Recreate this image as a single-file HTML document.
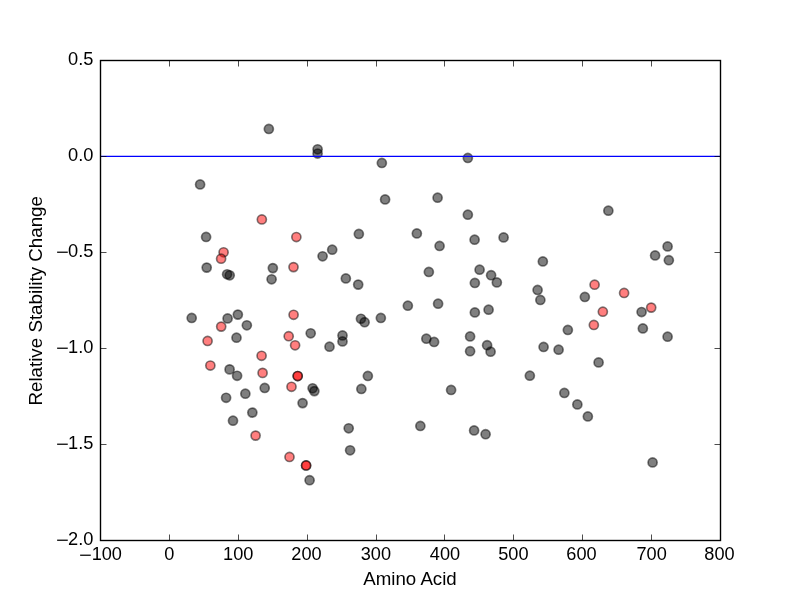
<!DOCTYPE html>
<html lang="en"><head><meta charset="utf-8"><title>plot</title>
<style>
html,body{margin:0;padding:0;background:#fff;}
body{width:800px;height:600px;overflow:hidden;}
svg{display:block;will-change:transform;}
text{font-family:"Liberation Sans",sans-serif;fill:#000;}
</style></head><body>
<svg width="800" height="600" viewBox="0 0 800 600">
<rect x="0" y="0" width="800" height="600" fill="#ffffff"/>

<g fill="#000" fill-opacity="0.5" stroke="#000" stroke-opacity="0.5" stroke-width="1.65">
<circle cx="268.85" cy="128.95" r="4.55"/>
<circle cx="317.60" cy="149.30" r="4.55"/>
<circle cx="317.60" cy="153.50" r="4.55"/>
<circle cx="200.10" cy="184.45" r="4.55"/>
<circle cx="206.10" cy="236.95" r="4.55"/>
<circle cx="358.85" cy="233.95" r="4.55"/>
<circle cx="332.20" cy="249.70" r="4.55"/>
<circle cx="381.85" cy="162.95" r="4.55"/>
<circle cx="467.85" cy="157.95" r="4.55"/>
<circle cx="385.10" cy="199.45" r="4.55"/>
<circle cx="437.60" cy="197.70" r="4.55"/>
<circle cx="467.85" cy="214.70" r="4.55"/>
<circle cx="416.85" cy="233.45" r="4.55"/>
<circle cx="439.60" cy="245.95" r="4.55"/>
<circle cx="474.60" cy="239.70" r="4.55"/>
<circle cx="503.60" cy="237.45" r="4.55"/>
<circle cx="608.35" cy="210.70" r="4.55"/>
<circle cx="667.60" cy="246.45" r="4.55"/>
<circle cx="206.70" cy="267.60" r="4.55"/>
<circle cx="227.10" cy="274.30" r="4.55"/>
<circle cx="229.70" cy="275.30" r="4.55"/>
<circle cx="272.85" cy="268.10" r="4.55"/>
<circle cx="271.60" cy="279.30" r="4.55"/>
<circle cx="322.60" cy="256.30" r="4.55"/>
<circle cx="345.85" cy="278.45" r="4.55"/>
<circle cx="358.20" cy="284.60" r="4.55"/>
<circle cx="191.70" cy="317.95" r="4.55"/>
<circle cx="227.60" cy="318.45" r="4.55"/>
<circle cx="237.85" cy="314.60" r="4.55"/>
<circle cx="246.85" cy="325.30" r="4.55"/>
<circle cx="236.50" cy="337.70" r="4.55"/>
<circle cx="229.60" cy="369.40" r="4.55"/>
<circle cx="237.10" cy="375.80" r="4.55"/>
<circle cx="310.70" cy="333.30" r="4.55"/>
<circle cx="329.50" cy="346.70" r="4.55"/>
<circle cx="342.50" cy="335.45" r="4.55"/>
<circle cx="342.50" cy="341.45" r="4.55"/>
<circle cx="360.95" cy="318.80" r="4.55"/>
<circle cx="364.60" cy="322.20" r="4.55"/>
<circle cx="245.35" cy="393.70" r="4.55"/>
<circle cx="226.10" cy="397.80" r="4.55"/>
<circle cx="252.35" cy="412.60" r="4.55"/>
<circle cx="233.00" cy="420.70" r="4.55"/>
<circle cx="264.70" cy="387.95" r="4.55"/>
<circle cx="312.60" cy="388.30" r="4.55"/>
<circle cx="314.35" cy="391.10" r="4.55"/>
<circle cx="302.60" cy="403.10" r="4.55"/>
<circle cx="361.35" cy="388.95" r="4.55"/>
<circle cx="348.70" cy="428.30" r="4.55"/>
<circle cx="309.60" cy="480.20" r="4.55"/>
<circle cx="350.10" cy="450.30" r="4.55"/>
<circle cx="428.85" cy="271.95" r="4.55"/>
<circle cx="479.60" cy="269.70" r="4.55"/>
<circle cx="491.10" cy="275.20" r="4.55"/>
<circle cx="474.85" cy="282.95" r="4.55"/>
<circle cx="496.85" cy="282.45" r="4.55"/>
<circle cx="542.85" cy="261.45" r="4.55"/>
<circle cx="537.60" cy="289.95" r="4.55"/>
<circle cx="540.35" cy="299.95" r="4.55"/>
<circle cx="407.85" cy="305.70" r="4.55"/>
<circle cx="438.10" cy="303.70" r="4.55"/>
<circle cx="474.85" cy="312.45" r="4.55"/>
<circle cx="488.60" cy="309.70" r="4.55"/>
<circle cx="380.85" cy="317.95" r="4.55"/>
<circle cx="426.35" cy="338.70" r="4.55"/>
<circle cx="434.10" cy="341.95" r="4.55"/>
<circle cx="470.10" cy="336.45" r="4.55"/>
<circle cx="470.10" cy="351.20" r="4.55"/>
<circle cx="487.10" cy="345.20" r="4.55"/>
<circle cx="490.60" cy="351.70" r="4.55"/>
<circle cx="543.60" cy="346.95" r="4.55"/>
<circle cx="558.60" cy="349.70" r="4.55"/>
<circle cx="367.85" cy="375.95" r="4.55"/>
<circle cx="529.85" cy="375.70" r="4.55"/>
<circle cx="451.10" cy="389.95" r="4.55"/>
<circle cx="564.35" cy="392.95" r="4.55"/>
<circle cx="420.35" cy="425.95" r="4.55"/>
<circle cx="474.10" cy="430.45" r="4.55"/>
<circle cx="485.60" cy="434.20" r="4.55"/>
<circle cx="655.10" cy="255.45" r="4.55"/>
<circle cx="668.85" cy="260.20" r="4.55"/>
<circle cx="584.85" cy="296.95" r="4.55"/>
<circle cx="641.60" cy="312.00" r="4.55"/>
<circle cx="567.85" cy="329.95" r="4.55"/>
<circle cx="642.85" cy="328.45" r="4.55"/>
<circle cx="667.60" cy="336.70" r="4.55"/>
<circle cx="598.60" cy="362.45" r="4.55"/>
<circle cx="577.35" cy="404.45" r="4.55"/>
<circle cx="587.85" cy="416.45" r="4.55"/>
<circle cx="652.60" cy="462.45" r="4.55"/>
</g>
<g fill="#f00" fill-opacity="0.5" stroke="#000" stroke-opacity="0.5" stroke-width="1.65">
<circle cx="261.85" cy="219.45" r="4.55"/>
<circle cx="296.35" cy="237.00" r="4.55"/>
<circle cx="223.60" cy="252.30" r="4.55"/>
<circle cx="221.10" cy="258.70" r="4.55"/>
<circle cx="293.50" cy="267.10" r="4.55"/>
<circle cx="221.20" cy="326.60" r="4.55"/>
<circle cx="207.60" cy="340.95" r="4.55"/>
<circle cx="210.35" cy="365.50" r="4.55"/>
<circle cx="293.60" cy="314.80" r="4.55"/>
<circle cx="288.70" cy="336.20" r="4.55"/>
<circle cx="295.10" cy="345.30" r="4.55"/>
<circle cx="261.60" cy="355.80" r="4.55"/>
<circle cx="262.60" cy="372.90" r="4.55"/>
<circle cx="297.70" cy="376.00" r="4.55"/>
<circle cx="297.70" cy="376.00" r="4.55"/>
<circle cx="291.50" cy="386.80" r="4.55"/>
<circle cx="255.60" cy="435.60" r="4.55"/>
<circle cx="289.50" cy="456.95" r="4.55"/>
<circle cx="306.10" cy="465.45" r="4.55"/>
<circle cx="306.10" cy="465.45" r="4.55"/>
<circle cx="594.60" cy="284.70" r="4.55"/>
<circle cx="624.10" cy="292.95" r="4.55"/>
<circle cx="602.85" cy="311.70" r="4.55"/>
<circle cx="651.20" cy="307.60" r="4.55"/>
<circle cx="593.85" cy="324.95" r="4.55"/>
</g>
<line x1="100" y1="156.4" x2="720.5" y2="156.4" stroke="#0000ff" stroke-width="1.39"/>
<g stroke="#000" stroke-width="0.7">
<line x1="100.50" y1="540" x2="100.50" y2="534.5"/>
<line x1="100.50" y1="60" x2="100.50" y2="66.5"/>
<line x1="169.50" y1="540" x2="169.50" y2="534.5"/>
<line x1="169.50" y1="60" x2="169.50" y2="66.5"/>
<line x1="238.50" y1="540" x2="238.50" y2="534.5"/>
<line x1="238.50" y1="60" x2="238.50" y2="66.5"/>
<line x1="307.50" y1="540" x2="307.50" y2="534.5"/>
<line x1="307.50" y1="60" x2="307.50" y2="66.5"/>
<line x1="376.50" y1="540" x2="376.50" y2="534.5"/>
<line x1="376.50" y1="60" x2="376.50" y2="66.5"/>
<line x1="444.50" y1="540" x2="444.50" y2="534.5"/>
<line x1="444.50" y1="60" x2="444.50" y2="66.5"/>
<line x1="513.50" y1="540" x2="513.50" y2="534.5"/>
<line x1="513.50" y1="60" x2="513.50" y2="66.5"/>
<line x1="582.50" y1="540" x2="582.50" y2="534.5"/>
<line x1="582.50" y1="60" x2="582.50" y2="66.5"/>
<line x1="651.50" y1="540" x2="651.50" y2="534.5"/>
<line x1="651.50" y1="60" x2="651.50" y2="66.5"/>
<line x1="720.50" y1="540" x2="720.50" y2="534.5"/>
<line x1="720.50" y1="60" x2="720.50" y2="66.5"/>
<line x1="100" y1="60.50" x2="106.5" y2="60.50"/>
<line x1="720" y1="60.50" x2="714.5" y2="60.50"/>
<line x1="100" y1="156.50" x2="106.5" y2="156.50"/>
<line x1="720" y1="156.50" x2="714.5" y2="156.50"/>
<line x1="100" y1="252.50" x2="106.5" y2="252.50"/>
<line x1="720" y1="252.50" x2="714.5" y2="252.50"/>
<line x1="100" y1="348.50" x2="106.5" y2="348.50"/>
<line x1="720" y1="348.50" x2="714.5" y2="348.50"/>
<line x1="100" y1="444.50" x2="106.5" y2="444.50"/>
<line x1="720" y1="444.50" x2="714.5" y2="444.50"/>
<line x1="100" y1="540.50" x2="106.5" y2="540.50"/>
<line x1="720" y1="540.50" x2="714.5" y2="540.50"/>
</g>
<rect x="100.5" y="60.5" width="620" height="480" fill="none" stroke="#000" stroke-width="1.39"/>
<text x="121.95" y="559.80" font-size="18" text-anchor="end" textLength="30.30" lengthAdjust="spacingAndGlyphs">100</text>
<text x="91.75" y="560.50" font-size="18" text-anchor="end" textLength="12.80" lengthAdjust="spacingAndGlyphs">−</text>
<text x="174.44" y="559.80" font-size="18" text-anchor="end" textLength="10.10" lengthAdjust="spacingAndGlyphs">0</text>
<text x="253.43" y="559.80" font-size="18" text-anchor="end" textLength="30.30" lengthAdjust="spacingAndGlyphs">100</text>
<text x="321.62" y="559.80" font-size="18" text-anchor="end" textLength="30.30" lengthAdjust="spacingAndGlyphs">200</text>
<text x="391.01" y="559.80" font-size="18" text-anchor="end" textLength="30.30" lengthAdjust="spacingAndGlyphs">300</text>
<text x="460.09" y="559.80" font-size="18" text-anchor="end" textLength="30.30" lengthAdjust="spacingAndGlyphs">400</text>
<text x="528.58" y="559.80" font-size="18" text-anchor="end" textLength="30.30" lengthAdjust="spacingAndGlyphs">500</text>
<text x="596.67" y="559.80" font-size="18" text-anchor="end" textLength="30.30" lengthAdjust="spacingAndGlyphs">600</text>
<text x="666.76" y="559.80" font-size="18" text-anchor="end" textLength="30.30" lengthAdjust="spacingAndGlyphs">700</text>
<text x="734.65" y="559.80" font-size="18" text-anchor="end" textLength="30.30" lengthAdjust="spacingAndGlyphs">800</text>
<text x="93.50" y="64.90" font-size="18" text-anchor="end" textLength="25.38" lengthAdjust="spacingAndGlyphs">0.5</text>
<text x="93.50" y="160.90" font-size="18" text-anchor="end" textLength="25.38" lengthAdjust="spacingAndGlyphs">0.0</text>
<text x="93.50" y="256.90" font-size="18" text-anchor="end" textLength="25.38" lengthAdjust="spacingAndGlyphs">0.5</text>
<text x="68.72" y="257.60" font-size="18" text-anchor="end" textLength="12.80" lengthAdjust="spacingAndGlyphs">−</text>
<text x="93.50" y="352.90" font-size="18" text-anchor="end" textLength="25.38" lengthAdjust="spacingAndGlyphs">1.0</text>
<text x="68.72" y="353.60" font-size="18" text-anchor="end" textLength="12.80" lengthAdjust="spacingAndGlyphs">−</text>
<text x="93.50" y="448.90" font-size="18" text-anchor="end" textLength="25.38" lengthAdjust="spacingAndGlyphs">1.5</text>
<text x="68.72" y="449.60" font-size="18" text-anchor="end" textLength="12.80" lengthAdjust="spacingAndGlyphs">−</text>
<text x="93.50" y="544.90" font-size="18" text-anchor="end" textLength="25.38" lengthAdjust="spacingAndGlyphs">2.0</text>
<text x="68.72" y="545.60" font-size="18" text-anchor="end" textLength="12.80" lengthAdjust="spacingAndGlyphs">−</text>
<text x="410" y="585" font-size="18" text-anchor="middle" textLength="93.5" lengthAdjust="spacingAndGlyphs">Amino Acid</text>
<text transform="translate(42,300.8) rotate(-90)" x="0" y="0" font-size="18" text-anchor="middle" textLength="209.6" lengthAdjust="spacingAndGlyphs">Relative Stability Change</text>
</svg></body></html>
